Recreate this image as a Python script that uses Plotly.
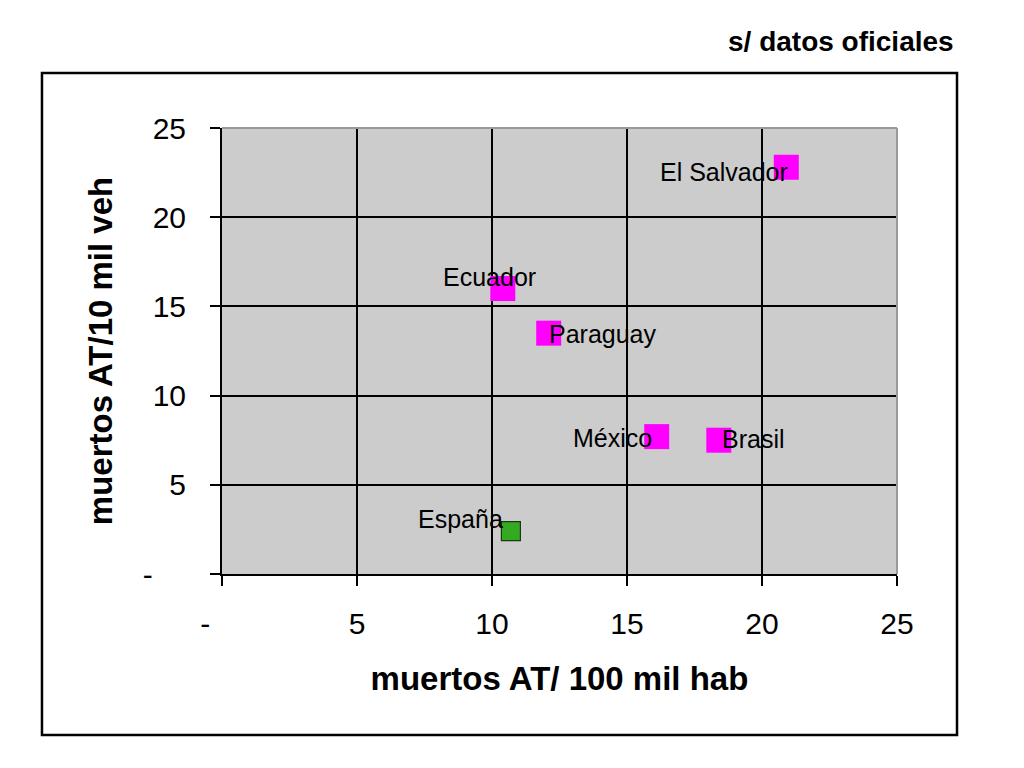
import plotly.graph_objects as go

paises = ['El Salvador', 'Ecuador', 'Paraguay', 'México', 'Brasil', 'España']
muertos_hab = [20.9, 10.4, 12.1, 16.1, 18.4, 10.7]
muertos_veh = [22.8, 16.0, 13.5, 7.7, 7.5, 2.4]

tick_vals = [0, 5, 10, 15, 20, 25]
x_ticktext = ['-\u00a0\u00a0\u00a0\u00a0', '5', '10', '15', '20', '25']
y_ticktext = ['-\u00a0\u00a0\u00a0\u00a0', '5', '10', '15', '20', '25']

# label placement relative to each marker (anchor, dx, dy in px)
label_pos = {
    'El Salvador': ('right', 4, -5),
    'Ecuador': ('center', -13, 12),
    'Paraguay': ('left', -2, -1),
    'México': ('right', -3, -1),
    'Brasil': ('left', 1, 1),
    'España': ('right', -6, 12),
}

fig = go.Figure()

lat = [i for i, p in enumerate(paises) if p != 'España']
fig.add_trace(go.Scatter(
    x=[muertos_hab[i] for i in lat], y=[muertos_veh[i] for i in lat],
    mode='markers',
    marker={'symbol': 'square', 'size': 25, 'color': '#FF00FF', 'line': {'width': 0}},
    showlegend=False, hoverinfo='skip'))
esp = paises.index('España')
fig.add_trace(go.Scatter(
    x=[muertos_hab[esp]], y=[muertos_veh[esp]],
    mode='markers',
    marker={'symbol': 'square', 'size': 19, 'color': '#33AA22', 'line': {'width': 1.2, 'color': '#1a3a10'}},
    showlegend=False, hoverinfo='skip'))

for p, xv, yv in zip(paises, muertos_hab, muertos_veh):
    anc, dx, dy = label_pos[p]
    fig.add_annotation(x=xv, y=yv, text=p, showarrow=False, xanchor=anc, yanchor='middle',
                       xshift=dx, yshift=dy,
                       font={'family': 'Liberation Sans, Arial, sans-serif', 'size': 25, 'color': 'black'})

# outer frame
fig.add_shape(type='rect', xref='paper', yref='paper', x0=-0.2667, x1=1.0889, y0=-0.361, y1=1.1233,
              line={'color': 'black', 'width': 2.5}, layer='below')
# gray top/right border of plot area
fig.add_shape(type='line', xref='paper', yref='paper', x0=0, x1=1, y0=1, y1=1,
              line={'color': '#999999', 'width': 2})
fig.add_shape(type='line', xref='paper', yref='paper', x0=1, x1=1, y0=0, y1=1,
              line={'color': '#999999', 'width': 2})

fig.add_annotation(text='<b>s/ datos oficiales</b>', xref='paper', yref='paper', x=1.087, y=1.193,
                   xanchor='right', yanchor='middle', showarrow=False,
                   font={'family': 'Liberation Sans, Arial, sans-serif', 'size': 28, 'color': 'black'})

axis_font = {'family': 'Liberation Sans, Arial, sans-serif', 'size': 30, 'color': 'black'}

fig.update_xaxes(range=[0, 25], tickvals=tick_vals, ticktext=x_ticktext, showgrid=True,
                 gridcolor='black', gridwidth=2, showline=True, linecolor='black', linewidth=2,
                 ticks='outside', ticklen=10, tickwidth=2, tickcolor='black', zeroline=False,
                 tickfont=axis_font, ticklabelstandoff=12,
                 title={'text': '<b>muertos AT/ 100 mil hab</b>', 'standoff': 28,
                        'font': {'family': 'Liberation Sans, Arial, sans-serif', 'size': 33, 'color': 'black'}})
fig.update_yaxes(range=[0, 25], tickvals=tick_vals, ticktext=y_ticktext, showgrid=True,
                 gridcolor='black', gridwidth=2, showline=True, linecolor='black', linewidth=2,
                 ticks='outside', ticklen=10, tickwidth=2, tickcolor='black', zeroline=False,
                 tickfont=axis_font, ticklabelstandoff=18,
                 title={'text': '<b>muertos AT/10 mil veh</b>', 'standoff': 20,
                        'font': {'family': 'Liberation Sans, Arial, sans-serif', 'size': 33, 'color': 'black'}})

fig.update_layout(
    width=1024, height=768,
    margin={'l': 214, 'r': 135, 't': 120, 'b': 202},
    plot_bgcolor='#CCCCCC', paper_bgcolor='white')

fig.write_html('out.html')
